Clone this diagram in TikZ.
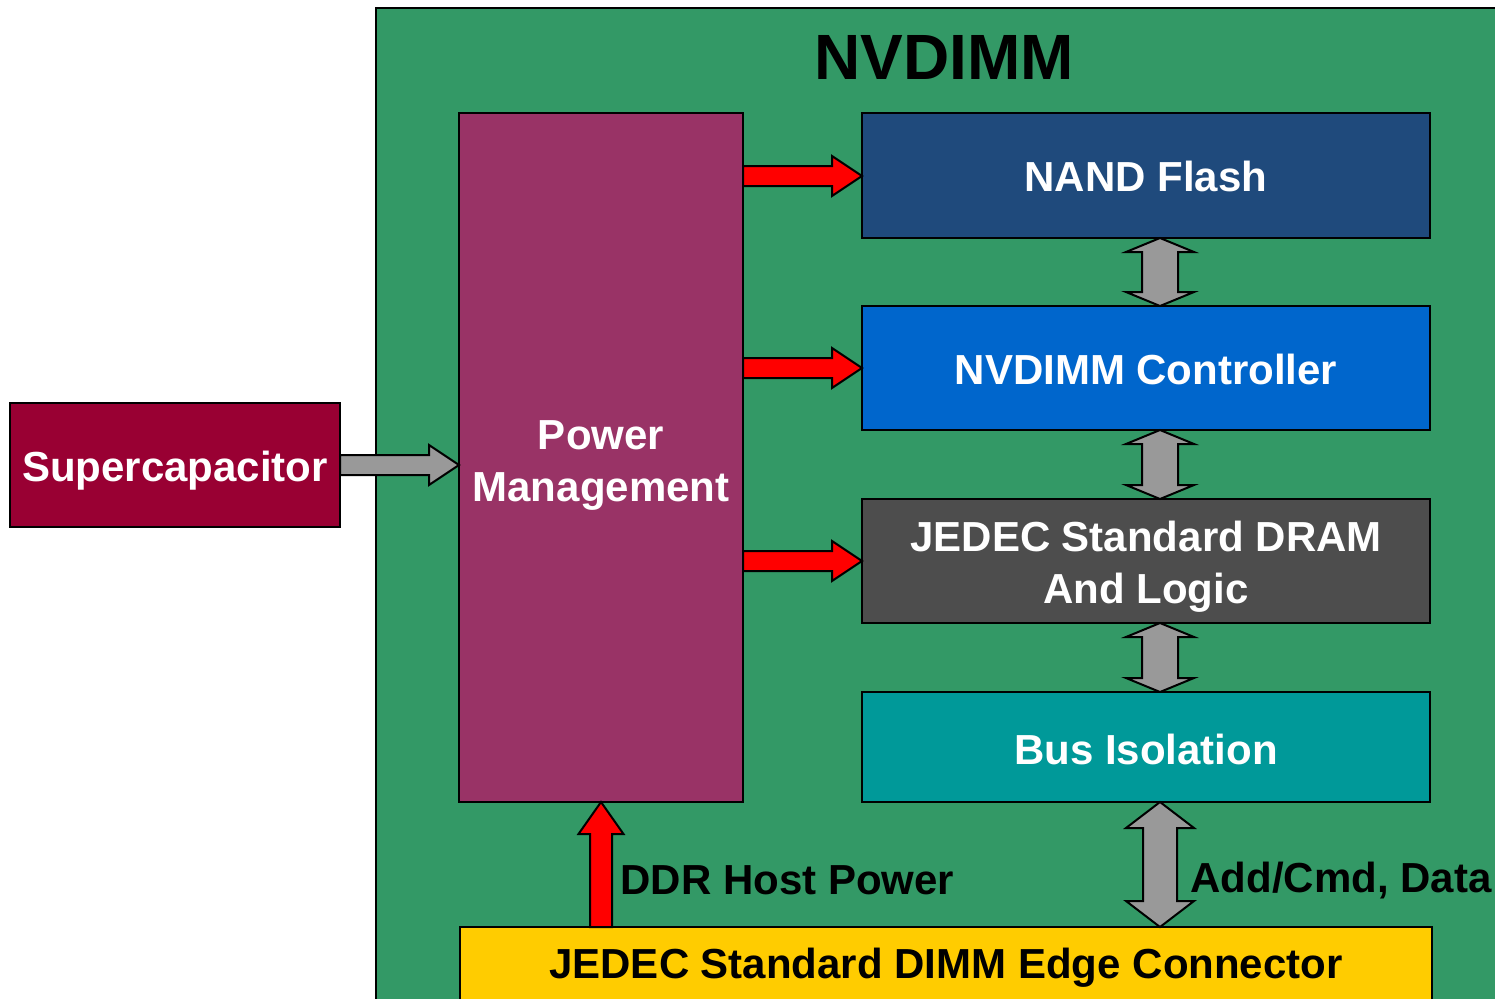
\documentclass[tikz,border=0pt]{standalone}
\usepackage{fontspec}
\setmainfont{Liberation Sans}
\usetikzlibrary{calc}

% horizontal block arrow: #1 style, #2 tail point, #3 tip point
\newcommand{\hblockarrow}[3]{%
  \draw[#1] ($(#2)+(0,-10)$) -- ($(#3)+(-30,-10)$) -- ($(#3)+(-30,-20)$) -- (#3)
    -- ($(#3)+(-30,20)$) -- ($(#3)+(-30,10)$) -- ($(#2)+(0,10)$) -- cycle;}
% vertical double-headed block arrow: #1 style, #2 upper tip, #3 lower tip,
% #4 shaft half width, #5 head length
\newcommand{\vdoublearrow}[5]{%
  \draw[#1] (#2) -- ($(#2)+(34,#5)$) -- ($(#2)+(#4,#5)$) -- ($(#3)+(#4,-#5)$)
    -- ($(#3)+(34,-#5)$) -- (#3) -- ($(#3)+(-34,-#5)$) -- ($(#3)+(-#4,-#5)$)
    -- ($(#2)+(-#4,#5)$) -- ($(#2)+(-34,#5)$) -- cycle;}
% vertical single block arrow pointing up: #1 style, #2 tip, #3 tail
\newcommand{\vuparrow}[3]{%
  \draw[#1] (#2) -- ($(#2)+(22.5,32)$) -- ($(#2)+(11,32)$) -- ($(#3)+(11,0)$)
    -- ($(#3)+(-11,0)$) -- ($(#2)+(-11,32)$) -- ($(#2)+(-22.5,32)$) -- cycle;}

\definecolor{boardgreen}{HTML}{339966}
\definecolor{capred}{HTML}{990033}
\definecolor{pmpurple}{HTML}{993366}
\definecolor{nandblue}{HTML}{1F4A7C}
\definecolor{ctrlblue}{HTML}{0066CC}
\definecolor{dramgrey}{HTML}{4D4D4D}
\definecolor{busteal}{HTML}{009999}
\definecolor{edgeyellow}{HTML}{FFCC00}
\definecolor{arrowgrey}{HTML}{999999}

\begin{document}
\begin{tikzpicture}[x=1pt,y=-1pt,
  blk/.style={draw=black,line width=2pt,inner sep=0pt},
  lbl/.style={text=white,font=\fontsize{42}{52}\selectfont\bfseries,align=center},
  redarrow/.style={draw=black,line width=2pt,fill=red,line join=miter},
  greyarrow/.style={draw=black,line width=2pt,fill=arrowgrey,line join=miter},
  blacklbl/.style={text=black,font=\fontsize{42}{52}\selectfont\bfseries}]

\clip (0,0) rectangle (1495,998);
\fill[white] (0,0) rectangle (1495,998);

% board outline
\draw[blk,fill=boardgreen] (376,8) rectangle (1520,1020);
\node[font=\fontsize{64}{70}\selectfont\bfseries] (title) at (944,57) {NVDIMM};

% blocks
\draw[blk,fill=capred] (10,403) rectangle (340,527);
\node[lbl] (cap) at (175,471) {Supercapacitor};
\coordinate (capE) at (340,465);

\draw[blk,fill=pmpurple] (459,113) rectangle (743,802);
\node[lbl] (pm) at (601,465) {Power\\Management};
\coordinate (pmE) at (743,0);
\coordinate (pmW) at (459,0);
\coordinate (pmS) at (601,802);

\draw[blk,fill=nandblue] (862,113) rectangle (1430,238);
\node[lbl] (nand) at (1146,176) {NAND Flash};
\draw[blk,fill=ctrlblue] (862,306) rectangle (1430,430);
\node[lbl] (ctrl) at (1146,369) {NVDIMM Controller};
\draw[blk,fill=dramgrey] (862,499) rectangle (1430,623);
\node[lbl] (dram) at (1146,567) {JEDEC Standard DRAM\\And Logic};
\draw[blk,fill=busteal] (862,692) rectangle (1430,802);
\node[lbl] (bus) at (1146,749) {Bus Isolation};
\draw[blk,fill=edgeyellow] (460,927) rectangle (1432,1020);
\node[blacklbl] (edge) at (946,968) {JEDEC Standard DIMM Edge Connector};

% connection points on the block edges
\coordinate (nandW) at (862,176);
\coordinate (ctrlW) at (862,368);
\coordinate (dramW) at (862,561);
\coordinate (nandS) at (1160,238);
\coordinate (ctrlN) at (1160,306);
\coordinate (ctrlS) at (1160,430);
\coordinate (dramN) at (1160,499);
\coordinate (dramS) at (1160,623);
\coordinate (busN) at (1160,692);
\coordinate (busS) at (1160,802);
\coordinate (edgeN) at (1160,927);
\coordinate (edgeP) at (601,927);

% power feeds
\hblockarrow{greyarrow}{capE}{pmW |- capE}
\hblockarrow{redarrow}{pmE |- nandW}{nandW}
\hblockarrow{redarrow}{pmE |- ctrlW}{ctrlW}
\hblockarrow{redarrow}{pmE |- dramW}{dramW}
\vuparrow{redarrow}{pmS}{edgeP}

% data paths
\vdoublearrow{greyarrow}{nandS}{ctrlN}{18}{14}
\vdoublearrow{greyarrow}{ctrlS}{dramN}{18}{14}
\vdoublearrow{greyarrow}{dramS}{busN}{18}{14}
\vdoublearrow{greyarrow}{busS}{edgeN}{17}{26}

\node[blacklbl,anchor=west] (ddr) at (617,880) {DDR Host Power};
\node[blacklbl,anchor=west] (acd) at (1187,881) {Add/Cmd, Data};
\end{tikzpicture}
\end{document}
